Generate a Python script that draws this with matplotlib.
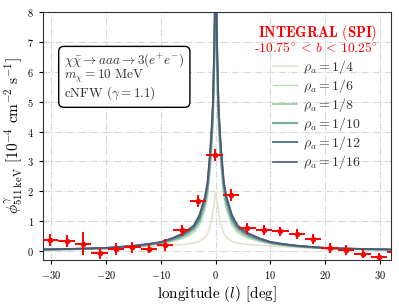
import numpy as np
import matplotlib
matplotlib.use("Agg")
import matplotlib.pyplot as plt

plt.rcParams['font.family'] = 'serif'
plt.rcParams['font.serif'] = ['cmr10', 'DejaVu Serif']
plt.rcParams['mathtext.fontset'] = 'cm'
plt.rcParams['axes.formatter.use_mathtext'] = True

# SPI 511 keV longitude profile
l_data = [-30.2, -27.2, -24.2, -21.2, -18.2, -15.2, -12.2, -9.2, -6.2, -3.2, -0.2,
          2.8, 5.8, 8.8, 11.8, 14.8, 17.8, 20.8, 23.8, 26.8, 29.8, 32.8]
flux = [0.37, 0.35, 0.25, -0.07, 0.08, 0.12, 0.08, 0.2, 0.7, 1.67, 3.2,
        1.89, 0.76, 0.70, 0.66, 0.58, 0.41, 0.11, 0.03, -0.09, -0.2, -0.03]
flux_err = [0.2, 0.2, 0.38, 0.18, 0.2, 0.18, 0.16, 0.2, 0.18, 0.2, 0.2,
            0.2, 0.18, 0.16, 0.16, 0.16, 0.16, 0.16, 0.16, 0.15, 0.12, 0.12]
l_err = 1.5

# model profiles (half, l >= 0), mirrored for l < 0
l_half = [0, 0.25, 0.5, 0.75, 1, 1.5, 2, 3, 4, 5, 6, 8, 10, 12, 15, 20, 25, 32]
models = {
    '1/4':  [2.0, 1.65, 1.35, 1.05, 0.85, 0.58, 0.45, 0.32, 0.27, 0.24, 0.22, 0.19, 0.17, 0.15, 0.12, 0.08, 0.06, 0.04],
    '1/6':  [10, 6.0, 4.2, 3.3, 2.7, 1.8, 1.35, 0.85, 0.62, 0.5, 0.42, 0.32, 0.24, 0.19, 0.14, 0.08, 0.06, 0.04],
    '1/8':  [10, 6.3, 4.5, 3.6, 2.9, 1.95, 1.5, 0.95, 0.7, 0.57, 0.47, 0.35, 0.26, 0.21, 0.15, 0.09, 0.065, 0.045],
    '1/10': [10, 6.6, 4.7, 3.8, 3.1, 2.1, 1.6, 1.03, 0.76, 0.62, 0.51, 0.38, 0.28, 0.22, 0.16, 0.095, 0.07, 0.05],
    '1/12': [10, 6.8, 4.85, 3.95, 3.25, 2.2, 1.7, 1.1, 0.8, 0.67, 0.55, 0.4, 0.29, 0.23, 0.17, 0.1, 0.075, 0.05],
    '1/16': [10, 7.0, 5.0, 4.1, 3.4, 2.3, 1.8, 1.2, 0.86, 0.72, 0.59, 0.43, 0.31, 0.25, 0.18, 0.11, 0.08, 0.055],
}
colors = ['#e5e0cf', '#b5dcb4', '#95cba6', '#78ae9f', '#557a95', '#4e5873']
widths = [1.2, 1.0, 1.2, 1.6, 1.4, 1.2]

fig = plt.figure(figsize=(3.99, 3.07), dpi=100)
ax = fig.add_axes([0.108, 0.153, 0.872, 0.808])

lh = np.array(l_half)
l_full = np.concatenate([-lh[::-1], lh[1:]])
for (name, vals), c, w in zip(models.items(), colors, widths):
    v = np.array(vals)
    v_full = np.concatenate([v[::-1], v[1:]])
    ax.plot(l_full, v_full, color=c, lw=w, label=r'$\rho_a = %s$' % name, zorder=2)

ax.errorbar(l_data, flux, xerr=l_err, yerr=flux_err, fmt='o', color='red',
            ms=3, elinewidth=1.4, capsize=0, zorder=3)

ax.set_xlim(-31.5, 32)
ax.set_ylim(-0.3, 8)
ax.set_xticks([-30, -20, -10, 0, 10, 20, 30])
ax.set_yticks(range(0, 9))
ax.tick_params(labelsize=7.5, length=3, direction='out')
ax.grid(True, ls='-.', color='#d8d8d8', lw=0.8)
for s in ax.spines.values():
    s.set_color('#333333')

ax.set_xlabel(r'longitude $(l)$ [deg]', fontsize=11, labelpad=2)
ax.set_ylabel(r'$\phi^{\gamma}_{511\,\mathrm{keV}}$ [$10^{-4}$ cm$^{-2}$ s$^{-1}$]',
              fontsize=11, labelpad=2)

ax.text(0.06, 0.84,
        r'$\chi\bar{\chi} \to aaa \to 3(e^{+}e^{-})$' + '\n' + r'$m_\chi = 10$ MeV' + '\n' + r'cNFW ($\gamma = 1.1$)',
        transform=ax.transAxes, fontsize=9.5, va='top', ha='left', color='#333333',
        linespacing=0.9,
        bbox=dict(boxstyle='round,pad=0.4', fc='white', ec='black', lw=1.0))

# legend title
ax.text(0.79, 0.915, r'$\mathbf{INTEGRAL\ (SPI)}$', transform=ax.transAxes,
        color='red', fontsize=10.5, ha='center', va='center')
ax.text(0.785, 0.851, '-' + r'$10.75^{\circ}\, <\, b\, <\, 10.25^{\circ}$', transform=ax.transAxes,
        color='red', fontsize=9.8, ha='center', va='center')

leg = ax.legend(loc='upper left', bbox_to_anchor=(0.661, 0.815), frameon=False,
                fontsize=10, handlelength=1.75, handletextpad=0.4, labelspacing=0.08,
                borderpad=0, borderaxespad=0)
for t in leg.get_texts():
    t.set_color('#333333')

fig.savefig('out.png', dpi=100)
